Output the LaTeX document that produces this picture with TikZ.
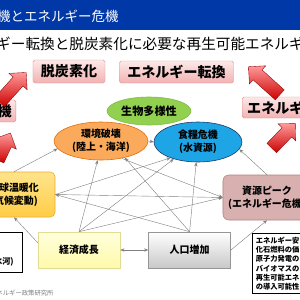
\documentclass[tikz,border=0pt]{standalone}
\usepackage{fontspec}
\setmainfont{Noto Sans CJK JP}
\usetikzlibrary{arrows.meta, positioning, shapes, shadows}
\definecolor{titleblue}{RGB}{0,56,168}
\definecolor{pinktop}{RGB}{253,232,232}
\definecolor{pinkbot}{RGB}{242,178,178}
\definecolor{pinkedge}{RGB}{217,150,148}
\definecolor{biogreen}{RGB}{146,208,80}
\definecolor{envorange}{RGB}{250,170,90}
\definecolor{envedge}{RGB}{228,108,10}
\definecolor{foodblue}{RGB}{30,165,230}
\definecolor{foodedge}{RGB}{31,56,100}
\definecolor{warmtop}{RGB}{255,228,140}
\definecolor{warmfill}{RGB}{255,205,70}
\definecolor{warmedge}{RGB}{240,170,50}
\definecolor{econtop}{RGB}{255,255,220}
\definecolor{econfill}{RGB}{255,250,170}
\definecolor{econedge}{RGB}{225,220,150}
\definecolor{popfill}{RGB}{200,200,200}
\definecolor{popedge}{RGB}{150,150,150}
\definecolor{peakfill}{RGB}{216,176,176}
\definecolor{peakedge}{RGB}{180,130,130}
\definecolor{linkgray}{RGB}{128,128,128}

\begin{document}
\begin{tikzpicture}[
    x=0.03cm, y=-0.03cm,
    every node/.style={align=center, inner sep=0pt, text=black},
    goal/.style={rectangle, draw=pinkedge, rounded corners=1.5pt, top color=pinktop, bottom color=pinkbot, font=\fontsize{12}{14}\selectfont\bfseries},
    risk/.style={ellipse, line width=0.5pt, font=\fontsize{8.5}{11}\selectfont\bfseries},
    cause/.style={rectangle, minimum width=2.46cm, minimum height=1.08cm, line width=0.5pt, font=\fontsize{8.5}{11}\selectfont\bfseries},
    notebox/.style={rectangle, draw=black, line width=0.9pt, fill=white},
    bigarrow/.style={single arrow, draw=red!55!black, line width=0.3pt, top color=red!40!white, bottom color=red!80!black, inner ysep=0.195cm, single arrow head extend=0.165cm},
    link/.style={-{Stealth[length=3.5pt,width=2.8pt]}, draw=linkgray, line width=0.35pt}
]
\useasboundingbox (0,0) rectangle (300,300);
\clip (0,0) rectangle (300,300);
\fill[white] (0,0) rectangle (300,300);
% title
\fill[titleblue] (0,0) rectangle (300,30);
\node[anchor=west, text=white, font=\fontsize{11.5}{13}\selectfont] (title) at (-3,16) {機とエネルギー危機};
\node[anchor=west, font=\fontsize{12.5}{14}\selectfont] (subtitle) at (-4,44) {ギー転換と脱炭素化に必要な再生可能エネルギ};
% goals
\node[goal, minimum width=2.16cm, minimum height=0.69cm] (dtk) at (69,71.5) {脱炭素化};
\node[goal, minimum width=3.42cm, minimum height=0.66cm] (etk) at (176.5,72) {エネルギー転換};
\node[goal, anchor=west, inner xsep=0.15cm, minimum height=0.63cm] (ekr) at (242,107.5) {エネルギー};
\node[goal, anchor=east, inner xsep=0.12cm, minimum height=0.66cm] (kiki) at (16,111) {危機};
% big arrows
\node[bigarrow, minimum height=1.2cm, rotate=48] (ar1) at (10.6,89.8) {};
\node[bigarrow, minimum height=0.9cm, rotate=65] (ar2) at (2.7,149.6) {};
\node[bigarrow, minimum height=1.26cm, rotate=138] (ar3) at (266.6,83) {};
\node[bigarrow, minimum height=1.02cm, rotate=46] (ar4) at (281.2,138.2) {};
% risks
\node[risk, draw=biogreen!90!black, fill=biogreen, minimum width=2.52cm, minimum height=0.84cm, font=\fontsize{9.5}{11}\selectfont\bfseries] (bio) at (149,111) {生物多様性};
\node[risk, draw=envedge, fill=envorange, minimum width=2.82cm, minimum height=1.14cm] (env) at (101,141) {環境破壊\\(陸上・海洋)};
\node[risk, draw=foodedge, fill=foodblue, minimum width=2.64cm, minimum height=1.2cm] (food) at (198,142) {食糧危機\\(水資源)};
% causes
\node[cause, draw=warmedge, top color=warmtop, bottom color=warmfill, rounded corners=4pt, minimum height=1.35cm] (warm) at (14,194.5) {地球温暖化\\(気候変動)};
\node[cause, draw=econedge, top color=econtop, bottom color=econfill] (econ) at (79,250) {経済成長};
\node[cause, draw=popedge, top color=white, bottom color=popfill, right=0.84cm of econ] (pop) {人口増加};
\node[cause, draw=peakedge, fill=peakfill, rounded corners=5pt, minimum width=2.64cm, minimum height=1.35cm] (peak) at (267,197.5) {資源ピーク\\(エネルギー危機)};
% notes
\node[notebox, anchor=north west, inner sep=0.1cm, align=left, font=\fontsize{6.2}{7.9}\selectfont\bfseries] (note) at (252,233) {エネルギー安\\化石燃料の価\\原子力発電の\\バイオマスの\\再生可能エネ\\の導入可能性};
\node[notebox, anchor=north east, minimum width=1.5cm, minimum height=1.2cm] (leftnote) at (23,232) {};
\node[anchor=east, font=\fontsize{7}{8}\selectfont\bfseries] (leftnotetext) at (14,262) {氷河)};
\node[anchor=west, text=gray, font=\fontsize{5.4}{7}\selectfont] (source) at (-10,293) {エネルギー政策研究所};
% links
\draw[link] (econ.170) -- (warm.south);
\draw[link] (econ.north) -- (env.-100);
\draw[link] (econ.north) -- (food.-145);
\draw[link] (econ.north) -- (peak.west);
\draw[link] (pop.north) -- (warm.east);
\draw[link] (pop.north) -- (env.-35);
\draw[link] (pop.north) -- (food.-95);
\draw[link] (pop.east) -- (peak.south);
\draw[link] (warm.north) -- (env.190);
\draw[link] (warm.east) -- (food.-150);
\draw[link] (warm.east) -- (peak.west);
\draw[link] (env.-40) -- (peak.west);
\draw[link] (peak.north) -- (food.-10);
\draw[link] (env.east) -- (food.west);
\draw[link, {Stealth[length=3.5pt,width=2.8pt]}-{Stealth[length=3.5pt,width=2.8pt]}] (econ.east) -- (pop.west);
\end{tikzpicture}
\end{document}
